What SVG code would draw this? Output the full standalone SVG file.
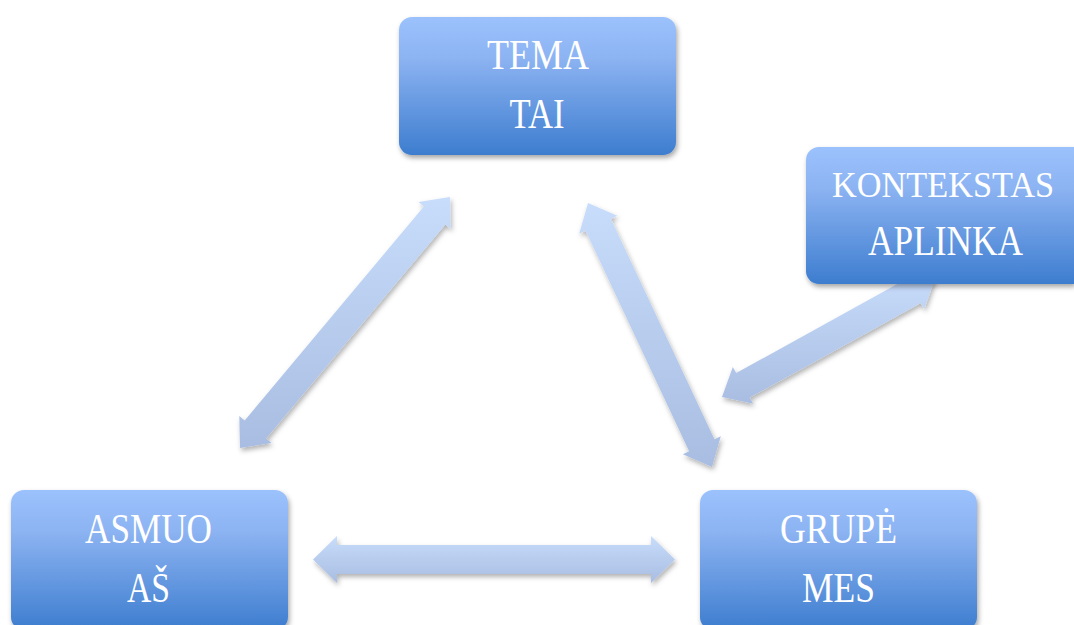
<svg xmlns="http://www.w3.org/2000/svg" width="1074" height="625" viewBox="0 0 1074 625">
<defs>
<linearGradient id="boxGrad" x1="0" y1="0" x2="0" y2="1">
<stop offset="0" stop-color="#9cc2fd"/>
<stop offset="0.3" stop-color="#8cb3f2"/>
<stop offset="1" stop-color="#3d7dcf"/>
</linearGradient>
<linearGradient id="arrowGrad" x1="0" y1="0" x2="0" y2="1">
<stop offset="0" stop-color="#c8dcfb"/>
<stop offset="1" stop-color="#a8bde1"/>
</linearGradient>
<filter id="shadow" x="-10%" y="-10%" width="125%" height="130%">
<feDropShadow dx="1.5" dy="3" stdDeviation="2.5" flood-color="#000" flood-opacity="0.35"/>
</filter>
<filter id="ashadow" x="-10%" y="-10%" width="125%" height="130%">
<feDropShadow dx="1.5" dy="3" stdDeviation="2.5" flood-color="#000" flood-opacity="0.3"/>
</filter>
</defs>
<style>
.box { fill: url(#boxGrad); filter: url(#shadow); }
.lbl { font-family: "Liberation Serif", "DejaVu Serif", serif; font-size: 42px; fill: #ffffff; text-anchor: middle; }
.sm { font-size: 36px; }
.arr { fill: url(#arrowGrad); filter: url(#ashadow); }
</style>
<rect width="1074" height="625" fill="#ffffff"/>
<g id="connectors">
<polygon class="arr" points="313,559.5 337,583 337,574 651,574 651,583 675,559.5 651,536 651,545 337,545 337,536"/>
<polygon class="arr" points="240,448 271.5,443.06 266.14,438.57 445.34,224.39 450.7,228.88 450,197 418.5,201.94 423.86,206.43 244.66,420.61 239.3,416.12"/>
<polygon class="arr" points="588,203 579.19,233.65 585.53,230.67 689.13,451.23 682.79,454.21 712,467 720.81,436.35 714.47,439.33 610.87,218.77 617.21,215.79"/>
<polygon class="arr" points="722,397 753.17,403.74 749.77,397.62 920.79,302.88 924.19,309 935,279 903.83,272.26 907.23,278.38 736.21,373.12 732.81,367"/>
</g>
<g id="tema">
<rect class="box" x="399" y="17" width="277" height="138" rx="13"/>
<text class="lbl" x="538" y="69" textLength="102" lengthAdjust="spacingAndGlyphs">TEMA</text>
<text class="lbl" x="537" y="128" textLength="55" lengthAdjust="spacingAndGlyphs">TAI</text>
</g>
<g id="kontekstas">
<path class="box" d="M819,147 H1074 V284 H819 A13,13 0 0 1 806,271 V160 A13,13 0 0 1 819,147 Z"/>
<text class="lbl sm" x="943" y="197" textLength="222" lengthAdjust="spacingAndGlyphs">KONTEKSTAS</text>
<text class="lbl" x="945.5" y="255" textLength="155" lengthAdjust="spacingAndGlyphs">APLINKA</text>
</g>
<g id="asmuo">
<rect class="box" x="11" y="490" width="277" height="140" rx="13"/>
<text class="lbl" x="148.5" y="543" textLength="127" lengthAdjust="spacingAndGlyphs">ASMUO</text>
<text class="lbl" x="148.5" y="602" textLength="43" lengthAdjust="spacingAndGlyphs">AŠ</text>
</g>
<g id="grupe">
<rect class="box" x="700" y="490" width="277" height="140" rx="13"/>
<text class="lbl" x="838.5" y="543" textLength="117" lengthAdjust="spacingAndGlyphs">GRUPĖ</text>
<text class="lbl" x="838.5" y="602" textLength="73" lengthAdjust="spacingAndGlyphs">MES</text>
</g>
</svg>
